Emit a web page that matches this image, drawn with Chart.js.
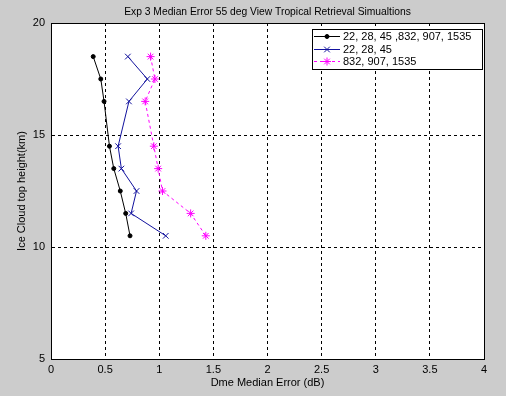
<!DOCTYPE html>
<html>
<head>
<meta charset="utf-8">
<script src="https://cdn.jsdelivr.net/npm/chart.js@4"></script>
<style>
  html, body { margin: 0; padding: 0; background: #cccccc; }
  #wrap { width: 506px; height: 396px; }
</style>
</head>
<body>
<div id="wrap"><canvas id="chart_1" width="506" height="396"></canvas></div>
<script>
// heights (km), shared by all three series
var heights = [18.5, 17.5, 16.5, 14.5, 13.5, 12.5, 11.5, 10.5];
// Dme median error (dB)
var errAll = [0.39, 0.46, 0.49, 0.54, 0.58, 0.64, 0.69, 0.73];
var errLow = [0.71, 0.89, 0.72, 0.62, 0.65, 0.79, 0.74, 1.06];
var errHigh = [0.92, 0.96, 0.87, 0.95, 0.99, 1.03, 1.29, 1.43];
var seriesNames = ["22, 28, 45 ,832, 907, 1535", "22, 28, 45", "832, 907, 1535"];
var chartTitle = 'Exp 3 Median Error 55 deg View Tropical Retrieval Simualtions';
var xTicks = [0, 0.5, 1, 1.5, 2, 2.5, 3, 3.5, 4];
var yTicks = [5, 10, 15, 20];

function pts(xs) {
    return xs.map(function (v, i) { return { x: v, y: heights[i] }; });
}

var FONT = "'Liberation Sans', Arial, sans-serif";

// paints figure grey, axes white, box border, title and the in-axes legend
var matlabLook = {
    id: 'matlabLook',
    beforeDraw: function (chart) {
        var c = chart.ctx, a = chart.chartArea;
        c.save();
        c.fillStyle = '#cccccc';
        c.fillRect(0, 0, chart.width, chart.height);
        c.fillStyle = '#ffffff';
        c.fillRect(a.left, a.top, a.right - a.left, a.bottom - a.top);
        c.restore();
    },
    afterDatasetsDraw: function (chart) {
        var c = chart.ctx, a = chart.chartArea;
        c.save();
        c.strokeStyle = '#000';
        c.lineWidth = 1;
        c.setLineDash([]);
        c.strokeRect(Math.round(a.left) + 0.5, Math.round(a.top) + 0.5,
            Math.round(a.right - a.left), Math.round(a.bottom - a.top));

        // title, centred over the axes
        c.fillStyle = '#000';
        c.font = '10.3px ' + FONT;
        c.textAlign = 'center';
        c.textBaseline = 'middle';
        c.fillText(chartTitle, (a.left + a.right) / 2, 12);

        // legend box
        var bx = 312, by = 29, bw = 170, bh = 40;
        c.fillStyle = '#fff';
        c.fillRect(bx, by, bw, bh);
        c.strokeRect(bx + 0.5, by + 0.5, bw, bh);
        c.font = '11px ' + FONT;
        c.textAlign = 'left';
        var rows = [36, 49, 61];
        chart.data.datasets.forEach(function (ds, i) {
            var y = rows[i] + 0.5;
            c.strokeStyle = ds.borderColor;
            c.fillStyle = ds.backgroundColor;
            c.setLineDash(ds.borderDash || []);
            c.beginPath();
            c.moveTo(314, y);
            c.lineTo(340, y);
            c.stroke();
            c.setLineDash([]);
            Chart.helpers.drawPoint(c, {
                pointStyle: ds.pointStyle,
                radius: ds.pointRadius,
                borderWidth: 1,
                rotation: 0
            }, 327, y);
            c.fillStyle = '#000';
            c.fillText(ds.label, 343, rows[i] + 1);
        });
        c.restore();
    }
};

var ctx1 = document.getElementById("chart_1").getContext("2d");
var lineChart = new Chart(ctx1, {
    type: 'scatter',
    data: {
        datasets: [
            {
                label: seriesNames[0],
                data: pts(errAll),
                showLine: true,
                borderColor: '#000000',
                backgroundColor: '#000000',
                borderWidth: 1,
                pointStyle: 'circle',
                pointRadius: 2,
                pointBorderWidth: 1
            },
            {
                label: seriesNames[1],
                data: pts(errLow),
                showLine: true,
                borderColor: '#12129e',
                backgroundColor: '#12129e',
                borderWidth: 1,
                pointStyle: 'crossRot',
                pointRadius: 4,
                pointBorderWidth: 1
            },
            {
                label: seriesNames[2],
                data: pts(errHigh),
                showLine: true,
                borderColor: '#ff00ff',
                backgroundColor: '#ff00ff',
                borderWidth: 1,
                borderDash: [3, 3],
                pointStyle: 'star',
                pointRadius: 4,
                pointBorderWidth: 1
            }
        ]
    },
    options: {
        animation: false,
        responsive: false,
        layout: { padding: { top: 23, right: 22, left: 0, bottom: 0 } },
        plugins: {
            legend: { display: false },
            tooltip: { enabled: false },
            title: { display: false }
        },
        scales: {
            x: {
                type: 'linear',
                min: 0, max: 4,
                afterFit: function (s) { s.height = 37; },
                afterBuildTicks: function (s) { s.ticks = xTicks.map(function (v) { return { value: v }; }); },
                ticks: {
                    color: '#000',
                    padding: 4,
                    maxRotation: 0,
                    font: { family: FONT, size: 11 },
                    callback: function (v) { return String(v); }
                },
                grid: { color: '#000', drawTicks: false, lineWidth: 1 },
                border: { display: true, color: '#000', dash: [3, 3] },
                title: {
                    display: true,
                    text: 'Dme Median Error (dB)',
                    color: '#000',
                    font: { family: FONT, size: 11 },
                    padding: { top: 0, bottom: 6 }
                }
            },
            y: {
                type: 'linear',
                min: 5, max: 20,
                afterFit: function (s) { s.width = 51; },
                afterBuildTicks: function (s) { s.ticks = yTicks.map(function (v) { return { value: v }; }); },
                ticks: {
                    color: '#000',
                    padding: 6,
                    font: { family: FONT, size: 11 }
                },
                grid: { color: '#000', drawTicks: false, lineWidth: 1 },
                border: { display: true, color: '#000', dash: [3, 3] },
                title: {
                    display: true,
                    text: 'Ice Cloud top height(km)',
                    color: '#000',
                    font: { family: FONT, size: 11 },
                    padding: { top: 15, bottom: 0 }
                }
            }
        }
    },
    plugins: [matlabLook]
});
// dashed grid lines like the original figure
lineChart.options.scales.x.grid.borderDash = [3, 3];
lineChart.options.scales.y.grid.borderDash = [3, 3];
lineChart.update();
</script>
</body>
</html>
